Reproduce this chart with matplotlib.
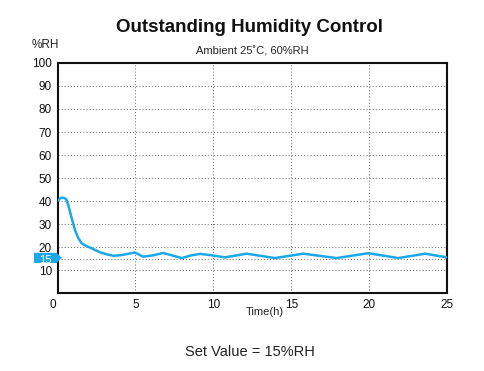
import matplotlib
matplotlib.use("Agg")
import matplotlib.pyplot as plt
import matplotlib.transforms as mtransforms
from matplotlib.patches import Polygon
from matplotlib.transforms import blended_transform_factory

plt.rcParams['font.family'] = ['Liberation Sans', 'DejaVu Sans']

time_h = [0.0, 0.22, 0.37, 0.55, 0.69, 0.91, 1.12, 1.34, 1.55, 1.87, 2.3, 2.73, 3.16,
          3.58, 4.12, 4.65, 4.97, 5.5, 6.15, 6.79, 7.33, 7.97, 8.6, 9.15, 9.79,
          10.75, 12.14, 13.96, 15.78, 17.92, 19.95, 21.87, 23.6, 25.0]
humidity = [40.0, 41.4, 41.4, 40.9, 38.3, 32.5, 27.4, 23.8, 21.6, 20.4, 19.1, 17.7, 16.8,
            16.2, 16.5, 17.2, 17.6, 15.8, 16.4, 17.4, 16.4, 15.2, 16.4, 17.0, 16.5,
            15.5, 17.1, 15.2, 17.1, 15.2, 17.3, 15.2, 17.1, 15.5]
x_ticks = [0, 5, 10, 15, 20, 25]
y_ticks = [10, 20, 30, 40, 50, 60, 70, 80, 90, 100]
y_grid = [10, 15, 20, 30, 40, 50, 60, 70, 80, 90]
x_grid = [5, 10, 15, 20]
set_value = 15

blue = '#1ba8e8'

fig = plt.figure(figsize=(4.85, 3.71), dpi=100)
ax = fig.add_axes([0.1186, 0.2102, 0.8030, 0.6200])

for y in y_grid:
    ax.axhline(y, color='#666666', lw=0.7, ls=(0, (1, 2.2)), zorder=1)
for x in x_grid:
    ax.axvline(x, color='#666666', lw=0.7, ls=(0, (1, 2.2)), zorder=1)

ax.plot(time_h, humidity, color=blue, lw=1.8, zorder=3,
        solid_joinstyle='round', solid_capstyle='round')

ax.set_xlim(0, 25)
ax.set_ylim(0, 100)
ax.set_xticks(x_ticks)
ax.set_yticks(y_ticks)
ax.tick_params(length=0, labelsize=8.5, pad=4, colors='#111111')
for s in ax.spines.values():
    s.set_linewidth(1.5)
    s.set_color('#111111')

# shift the "0" x tick label slightly left, as in the reference
fig.canvas.draw()
lab0 = ax.get_xticklabels()[0]
lab0.set_transform(lab0.get_transform() +
                   mtransforms.ScaledTranslation(-5 / 100, 0, fig.dpi_scale_trans))

# Set value marker: arrow-shaped box anchored at the left spine, at set_value
tr = blended_transform_factory(ax.transAxes, ax.transData)
anchor = fig.dpi_scale_trans + mtransforms.ScaledTranslation(0, set_value, tr)
# box shape in inches relative to the anchor (style only)
shape = [(-0.235, -0.045), (-0.008, -0.045), (0.042, 0.007), (-0.008, 0.057),
         (-0.235, 0.057)]
ax.add_patch(Polygon(shape, closed=True, transform=anchor, fc=blue, ec='none',
                     clip_on=False, zorder=4))
ax.text(-0.122, -0.014, str(set_value), transform=anchor, ha='center', va='center',
        color='white', fontsize=8.2, clip_on=False, zorder=5)

fig.text(0.515, 0.925, 'Outstanding Humidity Control', ha='center', va='center',
         fontsize=13.5, fontweight='bold', color='#111111')
fig.text(0.52, 0.862, 'Ambient 25˚C, 60%RH', ha='center', va='center', fontsize=8,
         color='#222222')
fig.text(0.093, 0.878, '%RH', ha='center', va='center', fontsize=8.5, color='#222222')
fig.text(0.547, 0.158, 'Time(h)', ha='center', va='center', fontsize=8, color='#222222')
fig.text(0.515, 0.052, 'Set Value = 15%RH', ha='center', va='center', fontsize=10.5,
         color='#222222')

fig.savefig('out.png', dpi=100, facecolor='white')
